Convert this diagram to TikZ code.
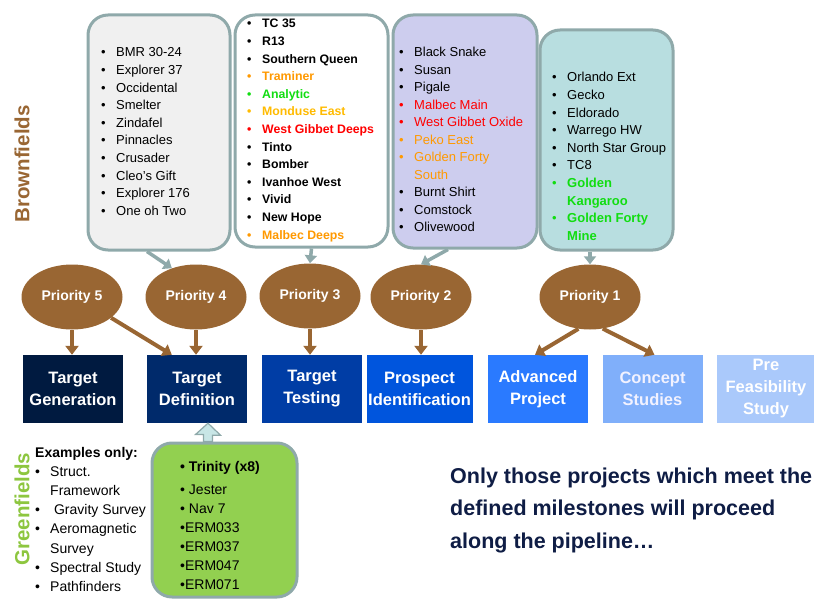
\documentclass[tikz,border=0pt]{standalone}
\usepackage{fontspec}
\setmainfont{Liberation Sans}
\usetikzlibrary{arrows.meta,shapes.geometric,calc}
\definecolor{brownc}{HTML}{996633}
\definecolor{edgec}{HTML}{8FA9AA}
\definecolor{box1c}{HTML}{F0F0F0}
\definecolor{box3c}{HTML}{CDCDEE}
\definecolor{box4c}{HTML}{B8DEE0}
\definecolor{greenbox}{HTML}{92D050}
\definecolor{greentxt}{HTML}{8DC63F}
\definecolor{orng}{HTML}{FF9900}
\definecolor{yorng}{HTML}{FFBB00}
\definecolor{brgreen}{HTML}{11DD11}
\definecolor{rd}{HTML}{FF0000}
\definecolor{navy}{HTML}{0F1D45}
\definecolor{s1}{HTML}{001A40}
\definecolor{s2}{HTML}{002A6B}
\definecolor{s3}{HTML}{003DA5}
\definecolor{s4}{HTML}{0055DD}
\definecolor{s5}{HTML}{2A7AFF}
\definecolor{s6}{HTML}{80AFFA}
\definecolor{s7}{HTML}{AAC9FB}
\definecolor{arrowfill}{HTML}{C8E6E6}
\newcommand\pitem[2]{\makebox[15pt][l]{\textcolor{#1}{•}}\textcolor{#1}{#2}\\}
\newcommand\pcont[2]{\hspace*{15pt}\textcolor{#1}{#2}\\}
\begin{document}
\begin{tikzpicture}[x=1pt,y=-1pt,
  callbox/.style={draw=edgec, line width=3pt, rounded corners=20pt, inner sep=0pt},
  prio/.style={ellipse, fill=brownc, minimum width=101pt, minimum height=65pt, inner sep=0pt,
    text=white, font=\bfseries\fontsize{14}{16}\selectfont},
  stage/.style={rectangle, minimum width=100pt, minimum height=68pt, inner sep=0pt,
    text=white, align=center, font=\bfseries\fontsize{16.5}{22}\selectfont},
  listtxt/.style={anchor=base west, inner sep=0pt, font=\fontsize{13}{17.6}\selectfont},
  barrow/.style={draw=brownc, line width=4pt, -{Triangle[width=13pt,length=9pt]}},
  garrow/.style={draw=edgec, line width=3.5pt, -{Triangle[width=12pt,length=8pt]}},
  side/.style={rotate=90, font=\bfseries\fontsize{20.5}{22}\selectfont, inner sep=0pt}
]
\useasboundingbox (0,0) rectangle (814,599);

% side labels
\node[side, text=brownc] (bf) at (22,164) {Brownfields};
\node[side, text=greentxt] (gf) at (22,509) {Greenfields};

% callout boxes
\node[callbox, fill=box1c, minimum width=142pt, minimum height=235pt] (b1) at (159,132.5) {};
\node[callbox, fill=white, minimum width=153pt, minimum height=232pt] (b2) at (311.5,131) {};
\node[callbox, fill=box3c, minimum width=144pt, minimum height=233pt] (b3) at (465,131.5) {};
\node[callbox, fill=box4c, minimum width=133pt, minimum height=220pt] (b4) at (606.5,140) {};
\node[callbox, fill=greenbox, minimum width=145pt, minimum height=154pt] (gb) at (224.5,520) {};

% lists
\node[listtxt] (l1) at (101,57) {\begin{tabular}[t]{@{}l@{}}
\pitem{black}{BMR 30-24}
\pitem{black}{Explorer 37}
\pitem{black}{Occidental}
\pitem{black}{Smelter}
\pitem{black}{Zindafel}
\pitem{black}{Pinnacles}
\pitem{black}{Crusader}
\pitem{black}{Cleo’s Gift}
\pitem{black}{Explorer 176}
\pitem{black}{One oh Two}
\end{tabular}};

\node[listtxt, font=\bfseries\fontsize{12.3}{17.6}\selectfont] (l2) at (247,28) {\begin{tabular}[t]{@{}l@{}}
\pitem{black}{TC 35}
\pitem{black}{R13}
\pitem{black}{Southern Queen}
\pitem{orng}{Traminer}
\pitem{brgreen}{Analytic}
\pitem{yorng}{Monduse East}
\pitem{rd}{West Gibbet Deeps}
\pitem{black}{Tinto}
\pitem{black}{Bomber}
\pitem{black}{Ivanhoe West}
\pitem{black}{Vivid}
\pitem{black}{New Hope}
\pitem{orng}{Malbec Deeps}
\end{tabular}};

\node[listtxt, font=\fontsize{13}{17.5}\selectfont] (l3) at (399,57) {\begin{tabular}[t]{@{}l@{}}
\pitem{black}{Black Snake}
\pitem{black}{Susan}
\pitem{black}{Pigale}
\pitem{rd}{Malbec Main}
\pitem{rd}{West Gibbet Oxide}
\pitem{orng}{Peko East}
\pitem{orng}{Golden Forty}
\pcont{orng}{South}
\pitem{black}{Burnt Shirt}
\pitem{black}{Comstock}
\pitem{black}{Olivewood}
\end{tabular}};

\node[listtxt] (l4) at (552,82) {\begin{tabular}[t]{@{}l@{}}
\pitem{black}{Orlando Ext}
\pitem{black}{Gecko}
\pitem{black}{Eldorado}
\pitem{black}{Warrego HW}
\pitem{black}{North Star Group}
\pitem{black}{TC8}
\pitem{brgreen}{\bfseries Golden}
\pcont{brgreen}{\bfseries Kangaroo}
\pitem{brgreen}{\bfseries Golden Forty}
\pcont{brgreen}{\bfseries Mine}
\end{tabular}};

% greenfields examples
\node[listtxt, font=\fontsize{14}{19.2}\selectfont] (ex) at (35,457) {\begin{tabular}[t]{@{}l@{}}
\textbf{Examples only:}\\
\pitem{black}{Struct.}
\pcont{black}{Framework}
\pitem{black}{\ Gravity Survey}
\pitem{black}{Aeromagnetic}
\pcont{black}{Survey}
\pitem{black}{Spectral Study}
\pitem{black}{Pathfinders}
\end{tabular}};

\node[listtxt, font=\fontsize{14}{19}\selectfont] (gl) at (180,471) {\begin{tabular}[t]{@{}l@{}}
\textbf{• Trinity (x8)}\\[4pt]
• Jester\\
• Nav 7\\
•ERM033\\
•ERM037\\
•ERM047\\
•ERM071
\end{tabular}};

% priorities
\node[prio] (p5) at (72,297) {Priority 5};
\node[prio] (p4) at (196,297) {Priority 4};
\node[prio] (p3) at (310,296) {Priority 3};
\node[prio] (p2) at (421,297) {Priority 2};
\node[prio] (p1) at (590,297) {Priority 1};

% stages
\node[stage, fill=s1] (tg) at (73,389) {Target\\Generation};
\node[stage, fill=s2] (td) at (197,389) {Target\\Definition};
\node[stage, fill=s3] (tt) at (312,389) {Target\\Testing};
\node[stage, fill=s4, minimum width=106pt] (pi) at (419.5,389) {Prospect\\Identification};
\node[stage, fill=s5] (ap) at (538,389) {Advanced\\Project};
\node[stage, fill=s6, text=white!95!blue] (cs) at (652.5,389) {Concept\\Studies};
\node[stage, fill=s7, minimum width=98pt] (pf) at (766,389) {Pre\\Feasibility\\Study};

% brown arrows
\draw[barrow] (p5.south) -- (tg.north -| p5.south);
\draw[barrow] (p5.-28) -- ([xshift=25pt]td.north west);
\draw[barrow] (p4.south) -- (td.north -| p4.south);
\draw[barrow] (p3.south) -- (tt.north -| p3.south);
\draw[barrow] (p2.south) -- (pi.north -| p2.south);
\draw[barrow] (p1.250) -- ([xshift=-3pt]ap.north);
\draw[barrow] (p1.292) -- ([xshift=2pt]cs.north);

% callout arrows
\draw[garrow] ([xshift=-12pt]b1.south) -- (p4.130);
\draw[garrow] (b2.south) -- (p3.north);
\draw[garrow] ([xshift=-17pt]b3.south) -- (p2.north);
\draw[garrow] (p1.north |- b4.south) -- (p1.north);

% hollow up arrow from greenfields box
\coordinate (gtip) at (td.south -| 208,0);
\draw[draw=edgec, fill=arrowfill, line width=1.2pt, line join=miter]
  (gtip) -- ++(12.5,12) -- ++(-8,0) -- (gb.north -| 212.5,0) -- (gb.north -| 203.5,0)
  -- ++(0,-7) -- ++(-8,0) -- cycle;

% message
\node[listtxt, text=navy, font=\bfseries\fontsize{21.5}{32.5}\selectfont] (msg) at (450,483) {\begin{tabular}[t]{@{}l@{}}
Only those projects which meet the\\
defined milestones will proceed\\
along the pipeline…
\end{tabular}};
\end{tikzpicture}
\end{document}
